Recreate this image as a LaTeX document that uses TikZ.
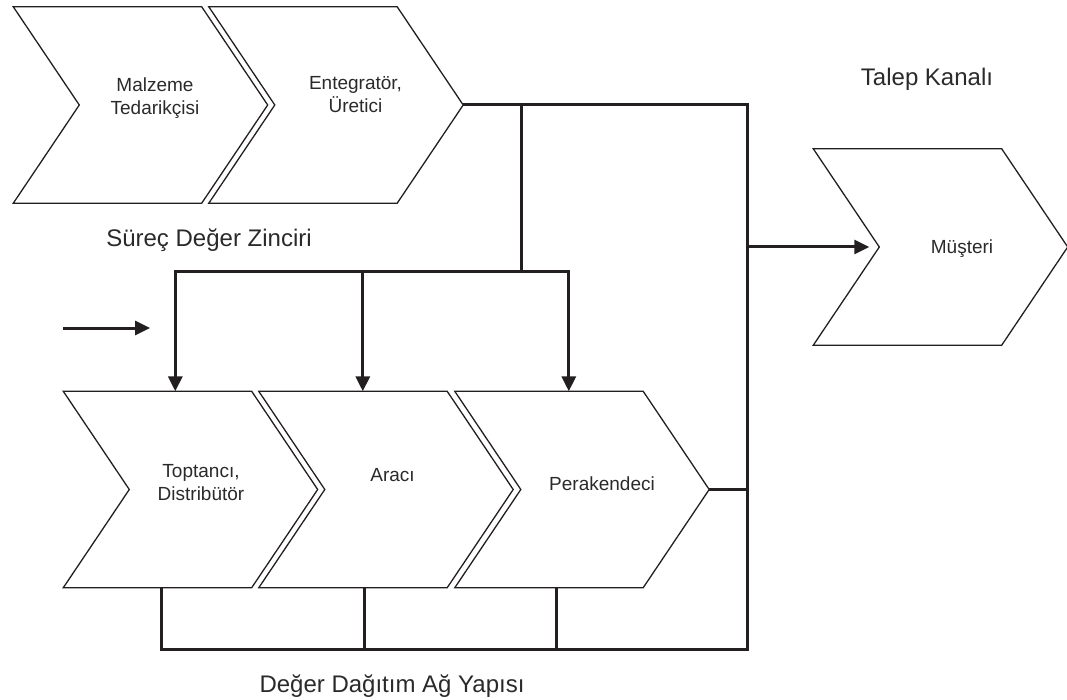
\documentclass[tikz,border=0pt]{standalone}
\usepackage{fontspec}
\setmainfont{Liberation Sans}
\usetikzlibrary{arrows.meta}
\definecolor{ink}{HTML}{231F20}
\definecolor{txt}{HTML}{2A2A2A}
\begin{document}
\begin{tikzpicture}[x=1pt,y=-1pt,
  chevbox/.style={minimum width=254pt, minimum height=196pt, inner sep=0pt, draw=none},
  outline/.style={draw=ink, line width=1.3pt, line join=miter},
  conn/.style={draw=ink, line width=3pt},
  tip/.style={-{Triangle[length=15pt,width=14pt]}},
  twotips/.style={{Triangle[length=15pt,width=14pt]}-{Triangle[length=15pt,width=14pt]}},
  lbl/.style={text=txt, font=\fontsize{19}{23}\selectfont, align=center, inner sep=0pt, anchor=base},
  title/.style={text=txt, font=\fontsize{24}{28}\selectfont, inner sep=0pt, anchor=base}]
\useasboundingbox (0,0) rectangle (1067,700);

% chevron frames: each box runs from the flat left edge to the point
\node[chevbox] (sup) at (140.5,105) {};
\node[chevbox] (man) at (336,105) {};
\node[chevbox] (who) at (190.5,489.5) {};
\node[chevbox] (mid) at (386,489.5) {};
\node[chevbox] (ret) at (582,489.5) {};
\node[chevbox] (cus) at (940.5,247) {};

\foreach \n in {sup,man,who,mid,ret,cus}
  \draw[outline] (\n.north west) -- ([xshift=-66pt]\n.north east) -- (\n.east)
    -- ([xshift=-66pt]\n.south east) -- (\n.south west) -- ([xshift=66pt]\n.west) -- cycle;

% labels inside the chevrons (base = baseline of the last line)
\node[lbl] (tsup) at (155,115) {Malzeme\\Tedarikçisi};
\node[lbl] (tman) at (355.5,113) {Entegratör,\\Üretici};
\node[lbl] (twho) at (201,500.5) {Toptancı,\\Distribütör};
\node[lbl] (tmid) at (392.5,481.7) {Aracı};
\node[lbl] (tret) at (602,490) {Perakendeci};
\node[lbl] (tcus) at (962,254) {Müşteri};

% titles
\node[title] (tk) at (927,86) {Talep Kanalı};
\node[title] (sz) at (209,247) {Süreç Değer Zinciri};
\node[title] (dd) at (392,692) {Değer Dağıtım Ağ Yapısı};

% junction points of the connector network
\path (man.east) ++(284,0) coordinate (cTR);
\path (cTR) ++(0,544) coordinate (cBR);
\path ([xshift=98pt]who.south west) coordinate (wB);
\path (wB |- cBR) coordinate (cBL);
\path ([xshift=106pt]mid.south west) coordinate (mB);
\path ([xshift=102pt]ret.south west) coordinate (rB);
\path (man.east) ++(58,0) coordinate (jT);
\path (jT) ++(0,167) coordinate (jB);
\path ([xshift=112pt]who.north west) coordinate (wT);
\path ([xshift=104pt]mid.north west) coordinate (mT);
\path ([xshift=114pt]ret.north west) coordinate (rT);

% outer loop: producer -> right rail -> bottom rail -> wholesaler
\draw[conn] (man.east) -- (cTR) -- (cBR) -- (cBL) -- (wB);
\draw[conn] (mB) -- (mB |- cBR);
\draw[conn] (rB) -- (rB |- cBR);
\draw[conn] (ret.east) -- (ret.east -| cTR);

% distribution branch
\draw[conn] (jT) -- (jB);
\draw[conn,twotips] (wT) -- (wT |- jB) -- (rT |- jB) -- (rT);
\draw[conn,tip] (mT |- jB) -- (mT);

% to the customer
\draw[conn,tip] (cus.west -| cTR) -- ([xshift=56pt]cus.west);

% free-standing flow arrow
\coordinate (fa) at (63,328);
\coordinate (fb) at (150,328);
\draw[conn,tip] (fa) -- (fb);
\end{tikzpicture}
\end{document}
